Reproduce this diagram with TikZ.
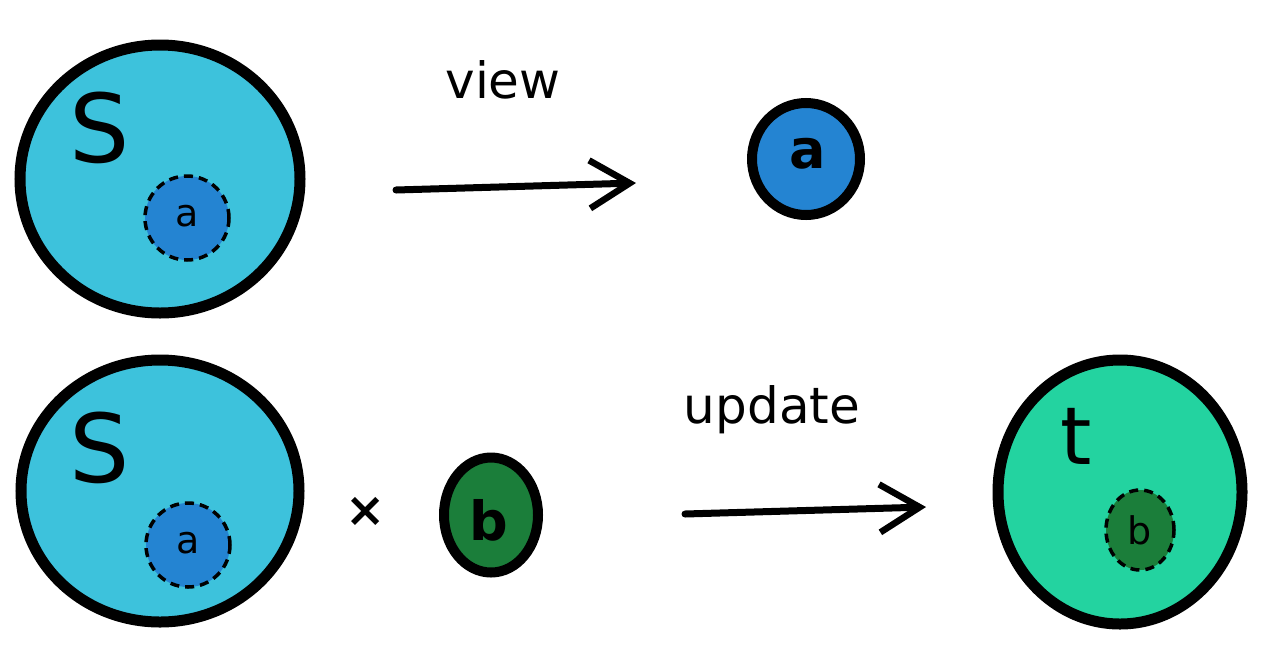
\documentclass[tikz,border=0pt]{standalone}
\usepackage{fontspec}
\setmainfont{DejaVu Sans}
\usetikzlibrary{shapes.geometric,arrows.meta}
\definecolor{setcyan}{HTML}{3DC2DC}
\definecolor{elemblue}{HTML}{2484D2}
\definecolor{elemgreen}{HTML}{1B7E3A}
\definecolor{setteal}{HTML}{23D3A0}
\begin{document}
\begin{tikzpicture}[x=1pt,y=-1pt,
  bigset/.style={ellipse, draw=black, line width=11pt, inner sep=0pt},
  elem/.style={ellipse, draw=black, line width=10pt, inner sep=0pt},
  subelem/.style={ellipse, draw=black, line width=3.5pt, dash pattern=on 9pt off 6pt, inner sep=0pt},
  arr/.style={line width=7pt, line cap=round, -{Straight Barb[length=40pt,width=48pt,line width=6.5pt]}},
  setname/.style={font=\fontsize{95}{95}\selectfont},
  opname/.style={font=\fontsize{50}{50}\selectfont},
  smalllab/.style={font=\fontsize{38}{38}\selectfont},
  biglab/.style={font=\bfseries\fontsize{54}{54}\selectfont}
]
\useasboundingbox (0,0) rectangle (1276,670);
% top row
\node[bigset, fill=setcyan, minimum width=280pt, minimum height=268pt] (S1) at (160,179) {};
\node[setname] (S1lab) at (100,128) {S};
\node[subelem, fill=elemblue, minimum width=84pt, minimum height=84pt] (a1) at (187,218) {};
\node[smalllab] (a1lab) at (187,216) {a};
\node[elem, fill=elemblue, minimum width=108pt, minimum height=112pt] (A) at (806,159) {};
\node[biglab] (Alab) at (808,154) {a};
\coordinate (v1) at (396,190);
\coordinate (v2) at (636,183);
\draw[arr] (v1) -- (v2);
\node[opname] (view) at (503,80) {view};
% bottom row
\node[bigset, fill=setcyan, minimum width=278pt, minimum height=262pt] (S2) at (160,491) {};
\node[setname] (S2lab) at (100,448) {S};
\node[subelem, fill=elemblue, minimum width=84pt, minimum height=84pt] (a2) at (188,545) {};
\node[smalllab] (a2lab) at (188,543) {a};
\node[font=\bfseries\fontsize{48}{48}\selectfont] (times) at (366,512) {×};
\node[elem, fill=elemgreen, minimum width=94pt, minimum height=115pt] (B) at (491,515) {};
\node[biglab] (Blab) at (489,520) {b};
\coordinate (u1) at (685,514);
\coordinate (u2) at (926,507);
\draw[arr] (u1) -- (u2);
\node[opname] (update) at (772,410) {update};
\node[bigset, fill=setteal, minimum width=244pt, minimum height=264pt] (T) at (1120,492) {};
\node[setname, font=\fontsize{80}{80}\selectfont] (Tlab) at (1076,436) {t};
\node[subelem, fill=elemgreen, minimum width=68pt, minimum height=80pt] (b2) at (1140,530) {};
\node[smalllab] (b2lab) at (1140,530) {b};
\end{tikzpicture}
\end{document}
